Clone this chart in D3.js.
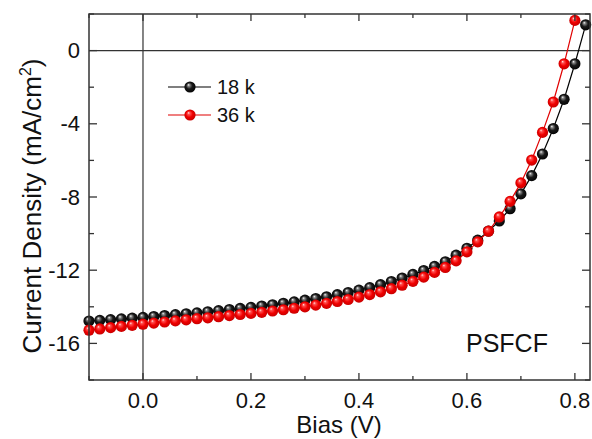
<!DOCTYPE html>
<html>
<head>
<meta charset="utf-8">
<script src="https://cdn.jsdelivr.net/npm/d3@7"></script>
<style>
  body { margin: 0; background: #fff; }
  svg { display: block; font-family: Arial, "Liberation Sans", sans-serif; }
</style>
</head>
<body>
<svg width="592" height="439"></svg>
<script>
// bias (V) for each point, 0.02 V steps
const bias18 = [-0.10,-0.08,-0.06,-0.04,-0.02,0.00,0.02,0.04,0.06,0.08,0.10,0.12,0.14,0.16,0.18,0.20,0.22,0.24,0.26,0.28,0.30,0.32,0.34,0.36,0.38,0.40,0.42,0.44,0.46,0.48,0.50,0.52,0.54,0.56,0.58,0.60,0.62,0.64,0.66,0.68,0.70,0.72,0.74,0.76,0.78,0.80,0.82]
const jsc18 = [-14.78,-14.74,-14.70,-14.66,-14.62,-14.58,-14.53,-14.48,-14.43,-14.38,-14.33,-14.27,-14.21,-14.15,-14.09,-14.03,-13.96,-13.89,-13.81,-13.73,-13.64,-13.55,-13.45,-13.34,-13.22,-13.09,-12.95,-12.79,-12.62,-12.43,-12.23,-12.02,-11.79,-11.54,-11.18,-10.80,-10.36,-9.86,-9.31,-8.64,-7.83,-6.83,-5.65,-4.26,-2.66,-0.72,1.41]

const bias36 = [-0.10,-0.08,-0.06,-0.04,-0.02,0.00,0.02,0.04,0.06,0.08,0.10,0.12,0.14,0.16,0.18,0.20,0.22,0.24,0.26,0.28,0.30,0.32,0.34,0.36,0.38,0.40,0.42,0.44,0.46,0.48,0.50,0.52,0.54,0.56,0.58,0.60,0.62,0.64,0.66,0.68,0.70,0.72,0.74,0.76,0.78,0.80]
const jsc36 = [-15.28,-15.21,-15.14,-15.07,-15.01,-14.95,-14.89,-14.83,-14.77,-14.71,-14.65,-14.60,-14.54,-14.48,-14.42,-14.36,-14.30,-14.23,-14.16,-14.08,-14.00,-13.91,-13.81,-13.71,-13.60,-13.47,-13.33,-13.18,-13.01,-12.82,-12.61,-12.38,-12.12,-11.85,-11.49,-11.00,-10.45,-9.87,-9.09,-8.24,-7.23,-5.98,-4.47,-2.81,-0.72,1.65]

const seriesNames = ["18 k", "36 k"]
const xTicks = [0.0, 0.2, 0.4, 0.6, 0.8]
const xMinor = [-0.1, 0.1, 0.3, 0.5, 0.7]
const yTicks = [0, -4, -8, -12, -16]
const yMinor = [2, -2, -6, -10, -14, -18]

const svg = d3.select("svg")
const pL = 89, pR = 590, pT = 14, pB = 380
const axisColor = "#333"

const x = d3.scaleLinear().domain([-0.1, 0.828]).range([pL, pR])
const y = d3.scaleLinear().domain([-18, 2]).range([pB, pT])

// sphere-like marker fills
const defs = svg.append("defs")
function ball(id, stops) {
    const g = defs.append("radialGradient").attr("id", id)
        .attr("cx", "50%").attr("cy", "50%").attr("r", "55%")
        .attr("fx", "36%").attr("fy", "30%")
    stops.forEach(s => g.append("stop").attr("offset", s[0]).attr("stop-color", s[1]))
}
ball("ballBlack", [["0%", "#ffffff"], ["18%", "#888"], ["50%", "#1a1a1a"], ["100%", "#000"]])
ball("ballRed", [["0%", "#ffe6e6"], ["20%", "#ff5050"], ["55%", "#f00000"], ["100%", "#c00000"]])

const series = [
    { name: seriesNames[0], xs: bias18, ys: jsc18, line: "#000", fill: "url(#ballBlack)" },
    { name: seriesNames[1], xs: bias36, ys: jsc36, line: "#e00000", fill: "url(#ballRed)" }
]

// zero lines
svg.append("line").attr("x1", pL).attr("x2", pR).attr("y1", y(0)).attr("y2", y(0))
    .attr("stroke", axisColor).attr("stroke-width", 1.2)
svg.append("line").attr("x1", x(0)).attr("x2", x(0)).attr("y1", pT).attr("y2", pB)
    .attr("stroke", axisColor).attr("stroke-width", 1.2)

const plot = svg.append("g")
const line = d3.line().x(d => x(d[0])).y(d => y(d[1]))

series.forEach(s => {
    const pts = s.xs.map((v, i) => [v, s.ys[i]])
    plot.append("path").datum(pts)
        .attr("d", line).attr("fill", "none")
        .attr("stroke", s.line).attr("stroke-width", 1.2)
    plot.append("g").selectAll("circle")
        .data(pts)
        .join("circle")
        .attr("cx", d => x(d[0]))
        .attr("cy", d => y(d[1]))
        .attr("r", 5.6)
        .attr("fill", s.fill)
})

// frame
svg.append("rect").attr("x", pL).attr("y", pT)
    .attr("width", pR - pL).attr("height", pB - pT)
    .attr("fill", "none").attr("stroke", axisColor).attr("stroke-width", 1.5)

// ticks, inward on all four sides
const tk = svg.append("g").attr("stroke", axisColor).attr("stroke-width", 1.3)
xTicks.forEach(v => {
    tk.append("line").attr("x1", x(v)).attr("x2", x(v)).attr("y1", pB).attr("y2", pB - 7)
    tk.append("line").attr("x1", x(v)).attr("x2", x(v)).attr("y1", pT).attr("y2", pT + 7)
})
xMinor.forEach(v => {
    tk.append("line").attr("x1", x(v)).attr("x2", x(v)).attr("y1", pB).attr("y2", pB - 4)
    tk.append("line").attr("x1", x(v)).attr("x2", x(v)).attr("y1", pT).attr("y2", pT + 4)
})
yTicks.forEach(v => {
    tk.append("line").attr("x1", pL).attr("x2", pL + 8).attr("y1", y(v)).attr("y2", y(v))
    tk.append("line").attr("x1", pR).attr("x2", pR - 8).attr("y1", y(v)).attr("y2", y(v))
})
yMinor.forEach(v => {
    tk.append("line").attr("x1", pL).attr("x2", pL + 5).attr("y1", y(v)).attr("y2", y(v))
    tk.append("line").attr("x1", pR).attr("x2", pR - 5).attr("y1", y(v)).attr("y2", y(v))
})

// tick labels
svg.append("g").selectAll("text").data(xTicks).join("text")
    .attr("x", d => x(d)).attr("y", 408)
    .attr("text-anchor", "middle").attr("font-size", 22).attr("fill", "#111")
    .text(d => d3.format(".1f")(d))
svg.append("g").selectAll("text").data(yTicks).join("text")
    .attr("x", 80).attr("y", d => y(d) + 7.5)
    .attr("text-anchor", "end").attr("font-size", 22).attr("fill", "#111")
    .text(d => d)

// axis titles
svg.append("text").attr("x", 339).attr("y", 433)
    .attr("text-anchor", "middle").attr("font-size", 24).attr("fill", "#111")
    .text("Bias (V)")
const yt = svg.append("text")
    .attr("transform", "translate(41, 206) rotate(-90)")
    .attr("text-anchor", "middle").attr("font-size", 26).attr("fill", "#111")
yt.append("tspan").text("Current Density (mA/cm")
yt.append("tspan").attr("font-size", 16).attr("dy", -10).text("2")
yt.append("tspan").attr("dy", 10).text(")")

// legend
const lg = svg.append("g")
series.forEach((s, i) => {
    const ly = 87 + i * 28
    lg.append("line").attr("x1", 168).attr("x2", 211).attr("y1", ly).attr("y2", ly)
        .attr("stroke", s.line).attr("stroke-width", 1.2)
    lg.append("circle").attr("cx", 190).attr("cy", ly).attr("r", 5.6).attr("fill", s.fill)
    lg.append("text").attr("x", 217).attr("y", ly + 7)
        .attr("font-size", 20).attr("fill", "#111").text(s.name)
})

svg.append("text").attr("x", 466).attr("y", 352)
    .attr("font-size", 25).attr("fill", "#111").text("PSFCF")
</script>
</body>
</html>
